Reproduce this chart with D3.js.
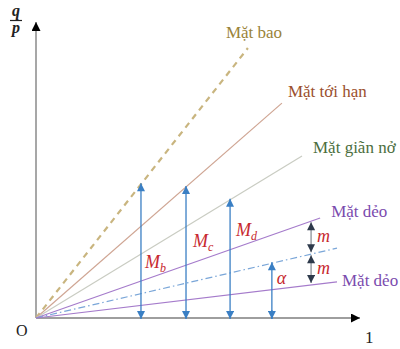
<!DOCTYPE html>
<html>
<head>
<meta charset="utf-8">
<script src="https://cdn.jsdelivr.net/npm/d3@7"></script>
<style>
  body { margin: 0; background: #fff; }
  svg text { font-family: "Liberation Serif", serif; }
</style>
</head>
<body>
<svg id="chart" width="400" height="349"></svg>
<script>
// các mặt (điểm cuối của mỗi đường, tính theo trục)
const surfaceNames = ['Mặt bao', 'Mặt tới hạn', 'Mặt giãn nở', 'Mặt dẻo', '', 'Mặt dẻo'];
const surfaceEndX = [0.654, 0.759, 0.821, 0.877, 0.929, 0.929];
const surfaceEndY = [0.912, 0.726, 0.547, 0.338, 0.236, 0.122];

// mũi tên đứng
const arrowLabels = ['b', 'c', 'd', 'α'];
const arrowX = [0.324, 0.463, 0.599, 0.728];
const arrowTarget = [0, 1, 2, 4];   // chỉ số mặt mà mũi tên chạm tới
const mX = 0.849;

const lineColors = ['#c9b57f', '#cfa593', '#c9ccc2', '#a57bcb', '#7aa6d8', '#a57bcb'];
const textColors = ['#9a833a', '#9b4f2e', '#4c6e3e', '#7b4bae', '', '#7b4bae'];

const svg = d3.select('#chart');
const x = d3.scaleLinear().domain([0, 1]).range([36, 360]);
const y = d3.scaleLinear().domain([0, 1]).range([318, 22]);

const defs = svg.append('defs');
function marker(id, color, w, h) {
  defs.append('marker').attr('id', id)
    .attr('viewBox', '0 0 10 10').attr('refX', 10).attr('refY', 5)
    .attr('markerUnits', 'userSpaceOnUse')
    .attr('markerWidth', w).attr('markerHeight', h)
    .attr('orient', 'auto-start-reverse')
    .append('path').attr('d', 'M0,0L10,5L0,10Z').attr('fill', color);
}
marker('axisHead', '#000', 11, 9);
marker('blueHead', '#3a7fc4', 10, 8);
marker('darkHead', '#2e3a4b', 10, 8);

// trục
svg.append('line').attr('x1', x(0)).attr('y1', y(0)).attr('x2', x(0)).attr('y2', y(1))
  .attr('stroke', '#9e9e9e').attr('stroke-width', 1.8).attr('marker-end', 'url(#axisHead)');
svg.append('line').attr('x1', x(0)).attr('y1', y(0)).attr('x2', x(1)).attr('y2', y(0))
  .attr('stroke', '#9e9e9e').attr('stroke-width', 1.8).attr('marker-end', 'url(#axisHead)');

// các đường mặt
surfaceNames.forEach((name, i) => {
  let l = svg.append('line')
    .attr('x1', x(0)).attr('y1', y(0))
    .attr('x2', x(surfaceEndX[i])).attr('y2', y(surfaceEndY[i]))
    .attr('stroke', lineColors[i]).attr('stroke-width', i === 0 ? 2.2 : 1.2);
  if (i === 0) l.attr('stroke-dasharray', '6,5');
  if (i === 4) l.attr('stroke-dasharray', '7,3,1.5,3');
});

const labelOffset = [[-22, -10], [6, -6], [11, -3], [11, -1], [0, 0], [5, 4]];
surfaceNames.forEach((name, i) => {
  if (!name) return;
  svg.append('text')
    .attr('x', x(surfaceEndX[i]) + labelOffset[i][0])
    .attr('y', y(surfaceEndY[i]) + labelOffset[i][1])
    .attr('fill', textColors[i]).attr('font-size', 17).text(name);
});

function lineY(k, xv) { return surfaceEndY[k] / surfaceEndX[k] * xv; }

// mũi tên M
arrowX.forEach((xv, i) => {
  const top = lineY(arrowTarget[i], xv);
  svg.append('line')
    .attr('x1', x(xv)).attr('x2', x(xv))
    .attr('y1', y(0) + 1).attr('y2', y(top) - 1)
    .attr('stroke', '#3a7fc4').attr('stroke-width', 1.3)
    .attr('marker-end', 'url(#blueHead)')
    .attr('marker-start', i < 3 ? 'url(#blueHead)' : null);
});
// hai đầu dưới: mũi tên α có đầu xuống
svg.append('line').attr('x1', x(arrowX[3])).attr('x2', x(arrowX[3]))
  .attr('y1', y(0) - 8).attr('y2', y(0) + 1)
  .attr('stroke', '#3a7fc4').attr('stroke-width', 1.3).attr('marker-end', 'url(#blueHead)');

const mLabelPos = [[4, 54], [7, 53], [6, 38]];
arrowLabels.forEach((s, i) => {
  const xv = arrowX[i];
  if (i < 3) {
    const t = svg.append('text')
      .attr('x', x(xv) + mLabelPos[i][0])
      .attr('y', y(lineY(arrowTarget[i], xv)) + [84, 60, 36][i])
      .attr('fill', '#c7282e').attr('font-size', 18).attr('font-style', 'italic');
    t.append('tspan').text('M');
    t.append('tspan').attr('font-size', 12).attr('dy', 4).text(s);
  } else {
    svg.append('text').attr('x', x(xv) + 5).attr('y', y(0) - 34)
      .attr('fill', '#c7282e').attr('font-size', 18).attr('font-style', 'italic').text(s);
  }
});

// mũi tên m
const mLevels = [3, 4, 5].map(k => lineY(k, mX));
for (let j = 0; j < 2; j++) {
  svg.append('line')
    .attr('x1', x(mX)).attr('x2', x(mX))
    .attr('y1', y(mLevels[j]) + 1).attr('y2', y(mLevels[j + 1]) - 2)
    .attr('stroke', '#8a8f96').attr('stroke-width', 1.3)
    .attr('marker-start', 'url(#darkHead)').attr('marker-end', 'url(#darkHead)');
  svg.append('text')
    .attr('x', x(mX) + 6)
    .attr('y', (y(mLevels[j]) + y(mLevels[j + 1])) / 2 + 4)
    .attr('fill', '#c7282e').attr('font-size', 18).attr('font-style', 'italic').text('m');
}

// chữ trục
svg.append('text').attr('x', 16).attr('y', 336).attr('font-size', 16).attr('fill', '#222').text('O');
svg.append('text').attr('x', 365).attr('y', 343).attr('font-size', 17).attr('fill', '#222').text('1');
svg.append('text').attr('x', 16).attr('y', 16).attr('text-anchor', 'middle')
  .attr('font-size', 16).attr('font-style', 'italic').attr('font-weight', 'bold').attr('fill', '#222').text('q');
svg.append('line').attr('x1', 10).attr('x2', 22).attr('y1', 20.5).attr('y2', 20.5)
  .attr('stroke', '#222').attr('stroke-width', 1.2);
svg.append('text').attr('x', 16).attr('y', 33).attr('text-anchor', 'middle')
  .attr('font-size', 16).attr('font-style', 'italic').attr('font-weight', 'bold').attr('fill', '#222').text('p');
</script>
</body>
</html>
